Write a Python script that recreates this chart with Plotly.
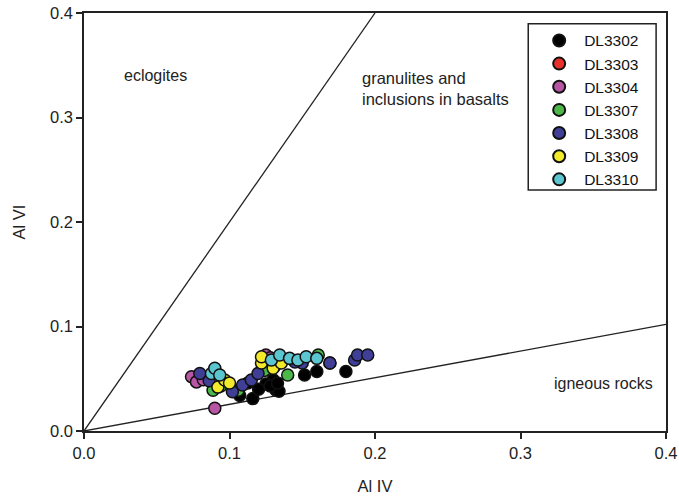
import plotly.graph_objects as go

# Boundary lines (Al IV vs Al VI)
eclogite_line_x = [0.0, 0.2]
eclogite_line_y = [0.0, 0.4]
igneous_line_x = [0.0, 0.4]
igneous_line_y = [0.0, 0.102]

# Sample data
dl3302_x = [0.107, 0.1126, 0.116, 0.130, 0.132, 0.134, 0.1516, 0.160, 0.169, 0.180, 0.125, 0.120, 0.128, 0.133]
dl3302_y = [0.034, 0.046, 0.031, 0.049, 0.039, 0.038, 0.0536, 0.057, 0.065, 0.057, 0.045, 0.040, 0.043, 0.046]
dl3303_x = [0.083, 0.095, 0.124]
dl3303_y = [0.050, 0.045, 0.068]
dl3304_x = [0.0739, 0.0773, 0.0899, 0.125, 0.082, 0.128]
dl3304_y = [0.052, 0.047, 0.0217, 0.0727, 0.049, 0.070]
dl3307_x = [0.0887, 0.106, 0.124, 0.140, 0.161, 0.094, 0.131]
dl3307_y = [0.039, 0.039, 0.058, 0.0536, 0.0727, 0.043, 0.062]
dl3308_x = [0.0796, 0.102, 0.109, 0.115, 0.1196, 0.150, 0.169, 0.186, 0.188, 0.195, 0.086, 0.145]
dl3308_y = [0.055, 0.0376, 0.044, 0.0488, 0.055, 0.065, 0.065, 0.068, 0.0727, 0.0727, 0.048, 0.066]
dl3309_x = [0.092, 0.0967, 0.100, 0.122, 0.122, 0.130, 0.1356]
dl3309_y = [0.042, 0.0488, 0.046, 0.065, 0.071, 0.060, 0.065]
dl3310_x = [0.0876, 0.0899, 0.0933, 0.1288, 0.1345, 0.1413, 0.147, 0.1527, 0.160]
dl3310_y = [0.055, 0.060, 0.0536, 0.068, 0.0727, 0.0695, 0.068, 0.071, 0.0695]

series = [
    ("DL3302", dl3302_x, dl3302_y, "#000000"),
    ("DL3303", dl3303_x, dl3303_y, "#e8312a"),
    ("DL3304", dl3304_x, dl3304_y, "#b856a6"),
    ("DL3307", dl3307_x, dl3307_y, "#4bb849"),
    ("DL3308", dl3308_x, dl3308_y, "#3f3f98"),
    ("DL3309", dl3309_x, dl3309_y, "#f2ea2a"),
    ("DL3310", dl3310_x, dl3310_y, "#5cc6d0"),
]

fig = go.Figure()
fig.add_trace(go.Scatter(x=eclogite_line_x, y=eclogite_line_y, mode="lines",
                         line=dict(color="#222222", width=1.3), showlegend=False, hoverinfo="skip"))
fig.add_trace(go.Scatter(x=igneous_line_x, y=igneous_line_y, mode="lines",
                         line=dict(color="#222222", width=1.3), showlegend=False, hoverinfo="skip"))

for name, xs, ys, col in series:
    fig.add_trace(go.Scatter(x=xs, y=ys, mode="markers", name=name,
                             marker=dict(color=col, size=12, line=dict(color="#111111", width=1.5))))

font_family = "Liberation Sans, Arial, sans-serif"

fig.add_annotation(x=0.049, y=0.34, text="eclogites", showarrow=False,
                   font=dict(size=16, color="#222222", family=font_family))
fig.add_annotation(x=0.2415, y=0.328, text="granulites and<br>inclusions in basalts", showarrow=False,
                   align="left", font=dict(size=16.5, color="#222222", family=font_family))
fig.add_annotation(x=0.357, y=0.045, text="igneous rocks", showarrow=False,
                   font=dict(size=16, color="#222222", family=font_family))

# legend frame
fig.add_shape(type="rect", xref="paper", yref="paper", x0=0.7633, x1=0.983, y0=0.5766, y1=0.974,
              line=dict(color="#222222", width=1.5), fillcolor="rgba(0,0,0,0)", layer="above")

axis_common = dict(range=[0, 0.4], tickvals=[0, 0.1, 0.2, 0.3, 0.4], tickformat=".1f",
                   showgrid=False, zeroline=False, showline=True, linecolor="#222222", linewidth=1.5,
                   mirror=True, ticks="outside", ticklen=6, tickcolor="#222222", tickwidth=1.5,
                   automargin=False,
                   tickfont=dict(size=16.5, color="#222222", family=font_family))

fig.update_layout(
    width=679, height=500,
    margin=dict(l=84, r=13, t=13, b=69),
    paper_bgcolor="white", plot_bgcolor="white",
    xaxis=dict(**axis_common, title=dict(text="Al IV", font=dict(size=16.5, color="#222222", family=font_family), standoff=20)),
    yaxis=dict(**axis_common, title=dict(text="Al VI", font=dict(size=16.5, color="#222222", family=font_family), standoff=20)),
    legend=dict(x=0.7735, y=0.974, xanchor="left", yanchor="top",
                borderwidth=0, bgcolor="rgba(0,0,0,0)",
                font=dict(size=15.5, color="#111111", family=font_family),
                itemwidth=40, itemsizing="constant"),
    showlegend=True,
)

fig.write_html("out.html", config={"displayModeBar": False},
               post_script="document.documentElement.style.margin='0';document.body.style.margin='0';"
                           "document.body.style.padding='0';document.body.style.overflow='hidden';")
